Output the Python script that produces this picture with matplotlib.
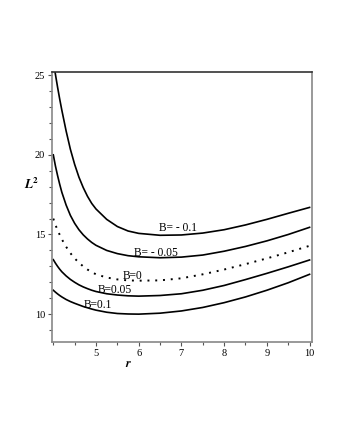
import matplotlib
matplotlib.use("Agg")
import matplotlib.pyplot as plt
from matplotlib.ticker import MultipleLocator

# radius samples
r = [4.0, 4.05, 4.1, 4.15, 4.2, 4.3, 4.4, 4.5, 4.6, 4.7, 4.8, 4.9, 5.0,
     5.25, 5.5, 5.75, 6.0, 6.5, 7.0, 7.5, 8.0, 8.5, 9.0, 9.5, 10.0]

L2_m010 = [25.9, 25.05, 24.25, 23.5, 22.8, 21.5, 20.35, 19.4, 18.6, 17.95, 17.4, 16.95, 16.6,
           15.95, 15.5, 15.22, 15.07, 14.95, 14.97, 15.09, 15.3, 15.6, 15.95, 16.33, 16.7]
L2_m005 = [20.0, 19.3, 18.7, 18.15, 17.65, 16.85, 16.2, 15.7, 15.3, 14.98, 14.72, 14.5, 14.32,
           14.0, 13.8, 13.67, 13.6, 13.54, 13.58, 13.71, 13.95, 14.25, 14.6, 15.0, 15.45]
L2_0 = [16.0, 15.6, 15.28, 14.98, 14.7, 14.23, 13.83, 13.5, 13.23, 13.0, 12.8, 12.64, 12.5,
        12.3, 12.18, 12.12, 12.1, 12.12, 12.25, 12.5, 12.8, 13.14, 13.5, 13.88, 14.29]
L2_p005 = [13.42, 13.2, 13.0, 12.82, 12.66, 12.4, 12.18, 12.0, 11.84, 11.71, 11.6, 11.5, 11.42,
           11.28, 11.2, 11.15, 11.13, 11.17, 11.28, 11.5, 11.8, 12.17, 12.56, 12.97, 13.4]
L2_p010 = [11.5, 11.38, 11.27, 11.17, 11.08, 10.92, 10.79, 10.68, 10.58, 10.48, 10.4, 10.32, 10.25,
           10.12, 10.04, 10.01, 10.0, 10.06, 10.2, 10.42, 10.72, 11.08, 11.5, 11.97, 12.5]

labels = ["B= - 0.1", "B= - 0.05", "B=0", "B=0.05", "B=0.1"]
label_pos = [(6.93, 15.38), (6.41, 13.84), (5.86, 12.42), (5.45, 11.5), (5.04, 10.6)]

plt.rcParams['font.family'] = ['Liberation Serif', 'DejaVu Serif']
plt.rcParams['mathtext.fontset'] = 'stix'

fig = plt.figure(figsize=(3.4, 4.4), dpi=100)
ax = fig.add_axes([0.153, 0.2227, 0.765, 0.6136])

ax.plot(r, L2_m010, color='black', lw=1.2)
ax.plot(r, L2_m005, color='black', lw=1.2)
ax.plot(r, L2_0, color='black', lw=1.4, linestyle=(0, (1, 3)))
ax.plot(r, L2_p005, color='black', lw=1.2)
ax.plot(r, L2_p010, color='black', lw=1.2)

for txt, (x, y) in zip(labels, label_pos):
    ax.text(x, y, txt, fontsize=8.3, ha='center', va='center')

ax.set_xlim(3.97, 10.06)
ax.set_ylim(8.25, 25.2)
ax.xaxis.set_major_locator(MultipleLocator(1))
ax.xaxis.set_minor_locator(MultipleLocator(0.5))
ax.yaxis.set_major_locator(MultipleLocator(5))
ax.yaxis.set_minor_locator(MultipleLocator(1))
ax.set_xticks([5, 6, 7, 8, 9, 10])

ax.tick_params(which='major', length=3, width=0.8, labelsize=7.5, color='#555555', pad=2)
ax.tick_params(which='minor', length=2, width=0.8, color='#555555')

for side in ['left', 'bottom', 'right']:
    ax.spines[side].set_color('#888888')
    ax.spines[side].set_linewidth(1.2)
ax.spines['top'].set_color('#333333')
ax.spines['top'].set_linewidth(1.2)

fig.text(129 / 340, 1 - 364 / 440, "$\\boldsymbol{r}$", fontsize=9, ha='center', va='center')
fig.text(31 / 340, 1 - 184 / 440, "$\\boldsymbol{L}^{\\mathbf{2}}$", fontsize=9.5, ha='center', va='center')

fig.savefig("out.png", dpi=100)
